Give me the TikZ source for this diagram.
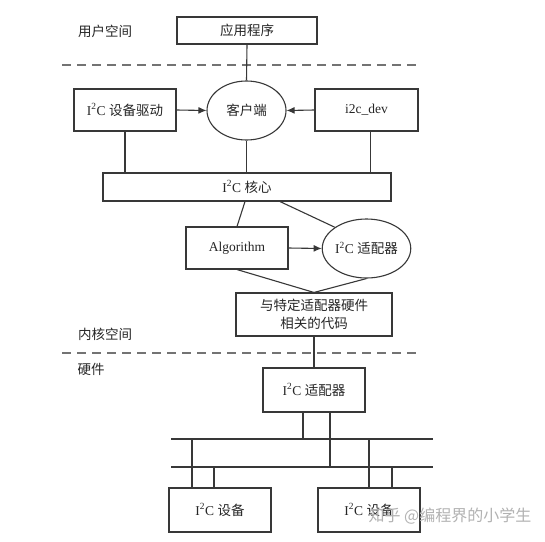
\documentclass[tikz,border=0pt]{standalone}
\usepackage{fontspec}
\setmainfont{Liberation Serif}
\newfontfamily\cjk{Noto Sans CJK SC}
\usetikzlibrary{arrows.meta,shapes.geometric}
\begin{document}
\begin{tikzpicture}[x=1pt,y=-1pt,
  ln/.style={draw=black!78, line width=1.1pt},
  txt/.style={font=\fontsize{13.5}{18}\selectfont, text=black!85},
  box/.style={ln, txt, rectangle, inner sep=0pt},
  ell/.style={ln, txt, ellipse, inner sep=0pt},
  arr/.style={ln, -{Latex[length=8pt,width=7pt]}},
  sepline/.style={draw=black!55, line width=1.4pt, dash pattern=on 9pt off 6pt},
  lbl/.style={txt, inner sep=0pt}
]
\useasboundingbox[fill=white] (0,0) rectangle (545,541);

% labels
\node[lbl] (lu) at (105,31) {\cjk 用户空间};
\node[lbl] (lk) at (105,334) {\cjk 内核空间};
\node[lbl] (lh) at (91,369) {\cjk 硬件};

% separators
\coordinate (s1a) at (62,65); \coordinate (s1b) at (420,65);
\coordinate (s2a) at (62,353); \coordinate (s2b) at (420,353);
\draw[sepline] (s1a) -- (s1b);
\draw[sepline] (s2a) -- (s2b);

% nodes
\node[box, minimum width=140pt, minimum height=27pt] (app) at (247,30.5) {\cjk 应用程序};
\node[ell, minimum width=79pt, minimum height=59pt] (kh) at (246.5,110.5) {\cjk 客户端};
\node[box, minimum width=102pt, minimum height=42pt] (drv) at (125,110) {I\textsuperscript{2}C {\cjk 设备驱动}};
\node[box, minimum width=103pt, minimum height=42pt] (dev) at (366.5,110) {i2c\_dev};
\node[box, minimum width=288pt, minimum height=28pt] (core) at (247,187) {I\textsuperscript{2}C {\cjk 核心}};
\node[box, minimum width=102pt, minimum height=42pt] (alg) at (237,248) {Algorithm};
\node[ell, minimum width=81pt, minimum height=59pt] (adp) at (366.5,248.5) {I\textsuperscript{2}C {\cjk 适配器}};
\node[box, minimum width=156pt, minimum height=43pt, align=center] (code) at (314,314.5) {\cjk 与特定适配器硬件\\\cjk 相关的代码};
\node[box, minimum width=102pt, minimum height=44pt] (hw) at (314,390) {I\textsuperscript{2}C {\cjk 适配器}};
\node[box, minimum width=102pt, minimum height=44pt] (d1) at (220,510) {I\textsuperscript{2}C {\cjk 设备}};
\node[box, minimum width=102pt, minimum height=44pt] (d2) at (369,510) {I\textsuperscript{2}C {\cjk 设备}};

% upper connectors
\draw[ln] (app.south) -- (kh.north);
\draw[arr] (drv.east) -- (kh.west);
\draw[arr] (dev.west) -- (kh.east);
\draw[ln] (drv.south) -- (drv.south |- core.north);
\draw[ln] (kh.south) -- (kh.south |- core.north);
\coordinate (dvb) at ([xshift=4pt]dev.south);
\draw[ln] (dvb) -- (dvb |- core.north);
\draw[ln] ([xshift=-2pt]core.south) -- (alg.north);
\draw[ln] ([xshift=33pt]core.south) -- (adp.north west);
\draw[arr] (alg.east) -- (adp.west);
\draw[ln] (alg.south) -- (code.north);
\draw[ln] (adp.south) -- (code.north);
\draw[ln] (code.south) -- (hw.north);

% buses
\coordinate (b1l) at (171,439); \coordinate (b1r) at (433,439);
\coordinate (b2l) at (171,467); \coordinate (b2r) at (433,467);
\draw[ln] (b1l) -- (b1r);
\draw[ln] (b2l) -- (b2r);
\coordinate (h1) at ([xshift=-11pt]hw.south);
\coordinate (h2) at ([xshift=16pt]hw.south);
\draw[ln] (h1) -- (h1 |- b1l);
\draw[ln] (h2) -- (h2 |- b2l);
\coordinate (e1) at ([xshift=-28pt]d1.north);
\coordinate (e2) at ([xshift=-6pt]d1.north);
\coordinate (f1) at (d2.north);
\coordinate (f2) at ([xshift=23pt]d2.north);
\draw[ln] (e1) -- (e1 |- b1l);
\draw[ln] (e2) -- (e2 |- b2l);
\draw[ln] (f1) -- (f1 |- b1l);
\draw[ln] (f2) -- (f2 |- b2l);

% watermark
\node[font=\cjk\fontsize{16}{18}\selectfont, text=black!30, inner sep=0pt] (wm) at (450,516) {知乎 @编程界的小学生};
\end{tikzpicture}
\end{document}
